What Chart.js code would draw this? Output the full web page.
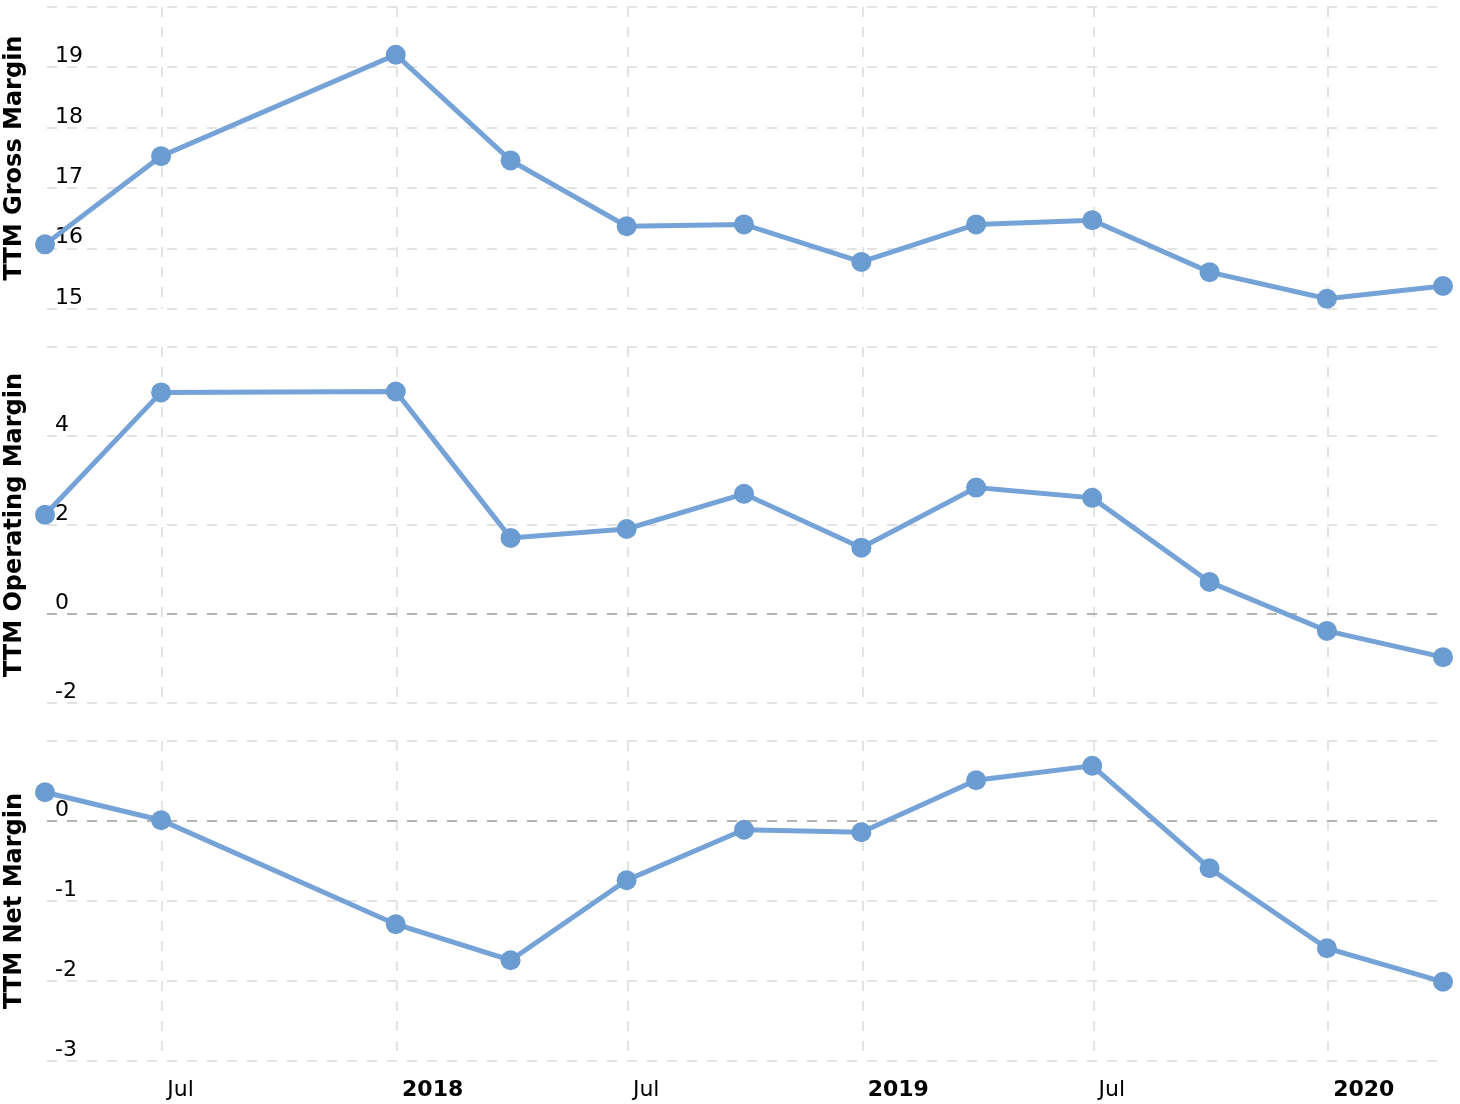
<!DOCTYPE html>
<html><head><meta charset="utf-8">
<script src="https://cdn.jsdelivr.net/npm/chart.js@4.4.1/dist/chart.umd.min.js"></script>
<style>
html,body{margin:0;padding:0;background:#fff;}
#wrap{position:relative;width:1460px;height:1104px;overflow:hidden;}
canvas{position:absolute;left:0;}
</style></head><body>
<div id="wrap">
<canvas id="c1" width="1460" height="330" style="top:0px"></canvas>
<canvas id="c2" width="1460" height="400" style="top:330px"></canvas>
<canvas id="c3" width="1460" height="374" style="top:730px"></canvas>
</div>
<script>
// ---- data ----
const DATES = ['2017-03-31','2017-06-30','2017-12-31','2018-03-31','2018-06-30','2018-09-30','2018-12-31','2019-03-31','2019-06-30','2019-09-30','2019-12-31','2020-03-31'];
const GROSS = [16.07,17.53,19.21,17.46,16.37,16.40,15.78,16.40,16.47,15.61,15.17,15.38];
const OPERATING = [2.23,4.98,5.00,1.71,1.91,2.70,1.49,2.84,2.61,0.72,-0.38,-0.97];
const NET = [0.36,0.01,-1.29,-1.74,-0.74,-0.11,-0.14,0.51,0.69,-0.59,-1.59,-2.01];
const TICK_DATES = ['2017-07-01','2018-01-01','2018-07-01','2019-01-01','2019-07-01','2020-01-01'];
const TICK_LABELS = ['Jul','2018','Jul','2019','Jul','2020'];
const TITLES = ['TTM Gross Margin','TTM Operating Margin','TTM Net Margin'];
const Y_MIN = [15,-2,-3];
const Y_MAX = [20,6,1];
const Y_STEP = [1,2,1];

Chart.defaults.font.family = "'DejaVu Sans', Verdana, sans-serif";
Chart.defaults.color = '#000';

function day(s){ return Date.parse(s + 'T00:00:00Z') / 86400000; }
const X = DATES.map(day);
const XT = TICK_DATES.map(day);

function makeChart(id, idx, values, showX, padTop, padBottom) {
  new Chart(document.getElementById(id), {
    type: 'line',
    data: { datasets: [{
      data: X.map((x, i) => ({x: x, y: values[i]})),
      borderColor: '#76a3d7', borderWidth: 5,
      pointRadius: 10, pointHoverRadius: 10,
      pointBackgroundColor: '#6a9bd1', pointBorderWidth: 0,
      tension: 0, clip: false
    }]},
    options: {
      responsive: false, animation: false, devicePixelRatio: 1, events: [],
      layout: { autoPadding: false, padding: { top: padTop, right: 17, bottom: padBottom, left: 0 } },
      plugins: { legend: { display: false }, tooltip: { enabled: false } },
      scales: {
        x: {
          type: 'linear', min: X[0], max: X[X.length - 1],
          afterBuildTicks: s => { s.ticks = XT.map(v => ({value: v})); },
          afterFit: s => { s.height = showX ? 43 : 0; },
          grid: { color: '#e3e3e3', lineWidth: 2, drawTicks: false },
          border: { display: false, dash: [10, 10] },
          ticks: {
            display: showX, align: 'start', labelOffset: 5, padding: 16,
            maxRotation: 0, autoSkip: false, color: '#000',
            callback: (v, i) => TICK_LABELS[i],
            font: ctx => ({ size: 22, weight: /^\d{4}$/.test(TICK_LABELS[ctx.index]) ? 'bold' : 'normal' })
          }
        },
        y: {
          min: Y_MIN[idx], max: Y_MAX[idx],
          afterFit: s => { s.width = 45; s.paddingTop = 0; s.paddingBottom = 0; },
          grid: {
            color: ctx => (ctx.tick && ctx.tick.value === 0) ? '#b4b4b4' : '#e3e3e3',
            lineWidth: 2, drawTicks: false
          },
          border: { display: false, dash: [10, 10], dashOffset: -2 },
          ticks: {
            stepSize: Y_STEP[idx], mirror: true, padding: 10, labelOffset: -11,
            color: '#000', font: { size: 22 },
            callback: (v, i, t) => (i === t.length - 1 ? '' : String(v))
          },
          title: {
            display: true, text: TITLES[idx], color: '#000',
            font: { size: 24, weight: 'bold' }, padding: { top: 0, bottom: 0 }
          }
        }
      }
    }
  });
}

makeChart('c1', 0, GROSS, false, 7, 21);
makeChart('c2', 1, OPERATING, false, 17, 27);
makeChart('c3', 2, NET, true, 11, 0);
</script>
</body></html>
